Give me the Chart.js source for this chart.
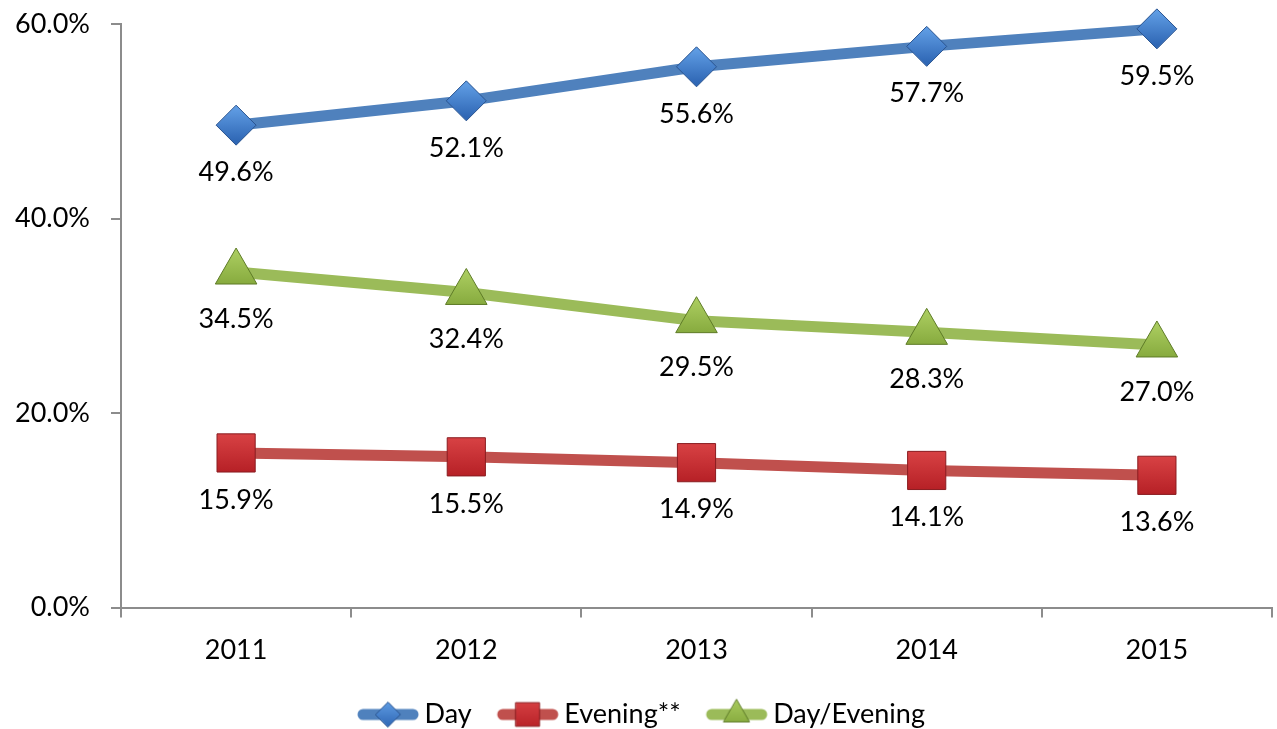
<!DOCTYPE html>
<html>
<head>
<meta charset="utf-8">
<script src="https://cdn.jsdelivr.net/npm/chart.js@4.4.1/dist/chart.umd.min.js"></script>
<style>
  html, body { margin: 0; padding: 0; background: #fff; }
  #wrap { width: 1277px; height: 729px; }
</style>
</head>
<body>
<div id="wrap"><canvas id="chart"></canvas></div>
<script>
// Dados do gráfico
const years = ['2011', '2012', '2013', '2014', '2015'];
const dayValues = [49.6, 52.1, 55.6, 57.7, 59.5];
const eveningValues = [15.9, 15.5, 14.9, 14.1, 13.6];
const dayEveningValues = [34.5, 32.4, 29.5, 28.3, 27.0];
const yTicks = [0, 20, 40, 60];

const FONT = 'Lato, "Open Sans", sans-serif';
const FONT_SIZE = 27;

// Estilo de cada série: cor da linha, cores do marcador, forma
const seriesStyle = [
    { label: 'Day', data: dayValues, line: '#4F81BD', light: '#5E9BE2', dark: '#2F67B5', edge: '#2A5490', shape: 'rectRot', radius: 20 },
    { label: 'Evening**', data: eveningValues, line: '#C0504D', light: '#DA4446', dark: '#B41E24', edge: '#8A1C20', shape: 'rect', radius: 27 },
    { label: 'Day/Evening', data: dayEveningValues, line: '#9BBB59', light: '#A9CB5E', dark: '#7FA337', edge: '#5E7B27', shape: 'triangle', radius: 24 }
];

function markerGradient(ctx, s, y, r) {
    const g = ctx.createLinearGradient(0, y - r, 0, y + r);
    g.addColorStop(0, s.light);
    g.addColorStop(1, s.dark);
    return g;
}

// Ícone da legenda: linha grossa com o marcador no meio
function legendIcon(s) {
    const c = document.createElement('canvas');
    c.width = 80; c.height = 34;
    const ctx = c.getContext('2d');
    ctx.strokeStyle = s.line;
    ctx.lineWidth = 11;
    ctx.lineCap = 'round';
    ctx.beginPath();
    ctx.moveTo(22, 17); ctx.lineTo(72, 17);
    ctx.stroke();
    const r = s.radius * 0.62;
    ctx.fillStyle = markerGradient(ctx, s, 17, r);
    ctx.strokeStyle = s.edge;
    ctx.lineWidth = 1;
    Chart.helpers.drawPoint(ctx, { pointStyle: s.shape, radius: r, rotation: 0, borderWidth: 1 }, 47, 17);
    return c;
}

// Plugin para rótulos de dados abaixo dos pontos
const valueLabels = {
    id: 'valueLabels',
    afterDatasetsDraw(chart) {
        const ctx = chart.ctx;
        ctx.save();
        ctx.font = FONT_SIZE + 'px ' + FONT;
        ctx.fillStyle = '#000';
        ctx.textAlign = 'center';
        ctx.textBaseline = 'middle';
        chart.data.datasets.forEach((ds, i) => {
            chart.getDatasetMeta(i).data.forEach((pt, j) => {
                ctx.fillText(ds.data[j].toFixed(1) + '%', pt.x, pt.y + 47);
            });
        });
        ctx.restore();
    }
};

const chart = new Chart(document.getElementById('chart'), {
    type: 'line',
    data: {
        labels: years,
        datasets: seriesStyle.map(s => ({
            label: s.label,
            data: s.data,
            borderColor: s.line,
            borderWidth: 11,
            backgroundColor: s.dark,
            pointBackgroundColor: c => {
                if (c.type !== 'data' || !c.chart.chartArea) return s.dark;
                const y = c.chart.scales.y.getPixelForValue(c.parsed.y);
                return markerGradient(c.chart.ctx, s, y, s.radius * 0.8);
            },
            pointBorderColor: s.edge,
            pointBorderWidth: 1,
            pointStyle: s.shape,
            pointRadius: s.radius,
            pointHoverRadius: s.radius,
            tension: 0,
            clip: false,
            icon: legendIcon(s)
        }))
    },
    options: {
        responsive: true,
        maintainAspectRatio: false,
        animation: false,
        layout: { autoPadding: false, padding: { top: 24, right: 5, left: 4, bottom: -9 } },
        scales: {
            x: {
                offset: true,
                afterFit(scale) { scale.paddingLeft = 0; scale.paddingRight = 0; },
                grid: { display: true, offset: true, drawOnChartArea: false, tickLength: 10, color: '#8c8c8c', lineWidth: 2 },
                border: { color: '#8c8c8c', width: 2 },
                ticks: { color: '#000', font: { family: FONT, size: FONT_SIZE }, padding: 16 }
            },
            y: {
                min: 0,
                max: 60,
                afterBuildTicks(axis) { axis.ticks = yTicks.map(v => ({ value: v })); },
                afterFit(scale) { scale.width = 117; scale.paddingTop = 0; scale.paddingBottom = 0; },
                grid: { display: true, drawOnChartArea: false, tickLength: 10, color: '#8c8c8c', lineWidth: 2 },
                border: { color: '#8c8c8c', width: 2 },
                ticks: {
                    color: '#000',
                    font: { family: FONT, size: FONT_SIZE },
                    padding: 21,
                    callback: v => v.toFixed(1) + '%'
                }
            }
        },
        plugins: {
            tooltip: { enabled: false },
            legend: {
                position: 'bottom',
                labels: {
                    usePointStyle: true,
                    pointStyleWidth: 60,
                    color: '#000',
                    font: { family: FONT, size: FONT_SIZE },
                    padding: 19,
                    generateLabels(chart) {
                        return chart.data.datasets.map((ds, i) => ({
                            text: ds.label,
                            pointStyle: ds.icon,
                            fillStyle: ds.backgroundColor,
                            strokeStyle: ds.borderColor,
                            lineWidth: 0,
                            hidden: false,
                            datasetIndex: i
                        }));
                    }
                }
            }
        }
    },
    plugins: [valueLabels]
});
</script>
</body>
</html>
